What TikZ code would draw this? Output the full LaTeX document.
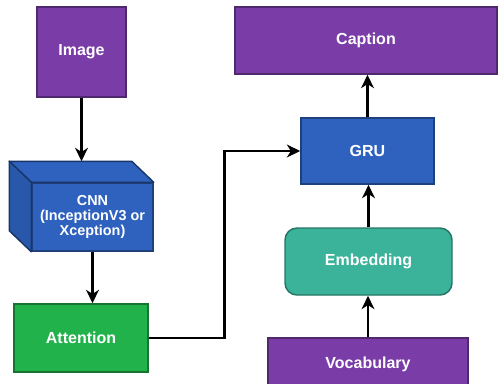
\documentclass[tikz,border=0pt]{standalone}
\usepackage{fontspec}
\setmainfont{Liberation Sans}
\usetikzlibrary{arrows.meta,calc}
\definecolor{purp}{HTML}{7A3DA8}
\definecolor{netblue}{HTML}{2E62BE}
\definecolor{attgreen}{HTML}{22B24C}
\definecolor{embteal}{HTML}{3BB39B}
\begin{document}
\begin{tikzpicture}[x=0.75pt,y=-0.75pt,
	box/.style={draw=#1!65!black, fill=#1, line width=1.1pt, text=white, inner sep=0pt,
		align=center, font=\fontsize{12}{14}\selectfont\bfseries},
	flow/.style={-{Stealth[length=10pt,width=9.5pt,inset=3pt]}, line width=2.1pt}]
	\useasboundingbox (0,0) rectangle (498,383);
	% input side
	\node[box=purp, minimum width=66.75pt, minimum height=67.5pt] (img) at (81.5,52) {Image};
	\node[box=netblue, minimum width=90.75pt, minimum height=51pt,
		font=\fontsize{10.8}{11.5}\selectfont\bfseries] (cnn) at (92.5,217) {CNN\\(InceptionV3 or\\Xception)};
	\filldraw[netblue, draw=netblue!55!black, line width=1.1pt, line join=round]
		(cnn.north west) -- ++(-22,-21) coordinate (cnntop) -- ($(cnn.north east)+(-22,-21)$) -- (cnn.north east) -- cycle;
	\filldraw[netblue!90!black, draw=netblue!55!black, line width=1.1pt, line join=round]
		(cnn.north west) -- (cnntop) -- ($(cnn.south west)+(-22,-21)$) -- (cnn.south west) -- cycle;
	\node[box=attgreen, minimum width=100.5pt, minimum height=51pt] (att) at (81,338) {Attention};
	% decoder side
	\node[box=purp, minimum width=196.5pt, minimum height=50.25pt] (cap) at (366,40.5) {Caption};
	\node[box=netblue, minimum width=99.75pt, minimum height=49.5pt] (gru) at (367.5,151) {GRU};
	\node[box=embteal, rounded corners=9pt, minimum width=125.25pt, minimum height=50.25pt] (emb) at (368.5,261.5) {Embedding};
	\node[box=purp, minimum width=150pt, minimum height=39pt] (voc) at (368,364) {Vocabulary};
	% connectors
	\draw[flow] (img.south) -- (img.south |- cnntop);
	\draw[flow] (cnn.south) -- (cnn.south |- att.north);
	\draw[flow] (att.east) -- ++(76,0) |- (gru.west);
	\draw[flow] (gru.north) -- (gru.north |- cap.south);
	\draw[flow] (emb.north) -- (emb.north |- gru.south);
	\draw[flow] (voc.north) -- (voc.north |- emb.south);
\end{tikzpicture}
\end{document}
